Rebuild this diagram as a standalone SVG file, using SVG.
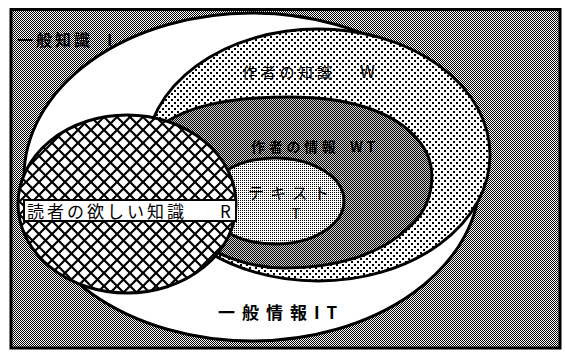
<svg xmlns="http://www.w3.org/2000/svg" width="565" height="352" viewBox="0 0 565 352">
<style>
.o{stroke:#000;stroke-width:3}
.t{font-family:"Noto Sans CJK JP","Noto Sans",sans-serif;fill:#000}
.b{font-weight:bold}
</style>
<defs>
<pattern id="pBg" width="2" height="2" patternUnits="userSpaceOnUse"><rect width="2" height="2" fill="#fff"/><rect width="1" height="1" fill="#000"/><rect x="1" y="1" width="1" height="1" fill="#000"/></pattern>
<pattern id="pWT" width="2" height="2" patternUnits="userSpaceOnUse"><rect width="2" height="2" fill="#d0d0d0"/><rect width="1" height="1" fill="#000"/><rect x="1" y="1" width="1" height="1" fill="#000"/></pattern>
<pattern id="pT" width="2" height="2" patternUnits="userSpaceOnUse"><rect width="2" height="2" fill="#fff"/><rect width="1" height="1" fill="#000"/></pattern>
<pattern id="pW" width="6" height="6" patternUnits="userSpaceOnUse"><rect width="6" height="6" fill="#fff"/><rect width="2" height="2" fill="#000"/><rect x="3" y="3" width="2" height="2" fill="#000"/></pattern>
<pattern id="pR" width="13" height="13" patternUnits="userSpaceOnUse"><rect width="13" height="13" fill="#fff"/><path d="M-1,-1 L14,14 M14,-1 L-1,14" stroke="#000" stroke-width="2.2"/></pattern>
</defs>
<rect width="565" height="352" fill="#fff"/>
<g id="general-knowledge">
<rect x="11" y="9.5" width="549" height="338.5" fill="url(#pBg)" class="o"/>
<text class="t b" x="17" y="46" font-size="16" letter-spacing="3">一般知識<tspan x="107">I</tspan></text>
</g>
<g id="general-info">
<ellipse cx="252" cy="177" rx="228" ry="164" fill="#fff" class="o"/>
<text class="t b" x="218" y="319" font-size="17" letter-spacing="7">一般情報<tspan x="314">IT</tspan></text>
</g>
<g id="author-knowledge">
<ellipse cx="318" cy="155" rx="172" ry="126" fill="url(#pW)" class="o"/>
<text class="t" x="242" y="78" font-size="15" letter-spacing="3.7">作者の知識<tspan x="360" font-size="17">W</tspan></text>
</g>
<g id="author-info">
<path d="M150,135 C180,104 235,97 290,97 C350,97 395,112 418,140 C440,165 435,205 408,228 C380,255 335,268 285,268 C245,268 210,252 190,235 Z" fill="url(#pWT)" class="o"/>
<text class="t b" x="251" y="152" font-size="14" letter-spacing="3.7">作者の情報<tspan x="350">WT</tspan></text>
</g>
<g id="text">
<ellipse cx="275" cy="201" rx="69" ry="43" fill="url(#pT)" class="o"/>
<text class="t" x="248" y="199" font-size="16" letter-spacing="6">テキスト</text>
<text class="t" x="296" y="219" font-size="15" text-anchor="middle">T</text>
</g>
<g id="reader-knowledge">
<ellipse cx="127" cy="204" rx="109" ry="89" fill="url(#pR)" class="o"/>
<rect x="24" y="200" width="212" height="21" fill="#fff" stroke="#000" stroke-width="2"/>
<text class="t" x="27" y="218" font-size="17" letter-spacing="3">読者の欲しい知識<tspan x="220">R</tspan></text>
</g>
</svg>
